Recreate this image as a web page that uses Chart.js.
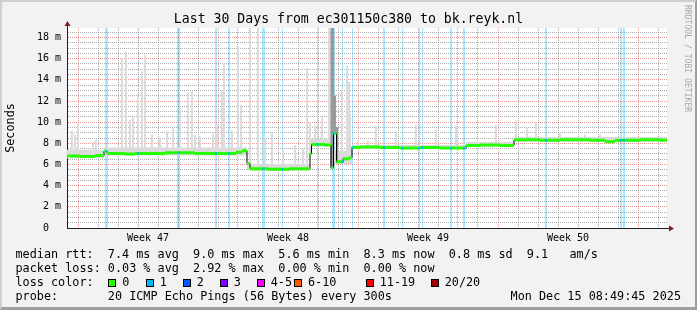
<!DOCTYPE html>
<html>
<head>
<meta charset="utf-8">
<script src="https://cdn.jsdelivr.net/npm/chart.js@4.4.1/dist/chart.umd.min.js"></script>
<style>
  html, body { margin: 0; padding: 0; background: #f2f2f2; }
  #frame {
    position: absolute; left: 0; top: 0; width: 697px; height: 310px; box-sizing: border-box;
    background: #f2f2f2;
    border-top: 2px solid #cfcfcf; border-left: 2px solid #cfcfcf;
    border-right: 2px solid #9e9e9e; border-bottom: 3px solid #9e9e9e;
  }
  #chart { position: absolute; left: 0; top: 0; }
  .txt { position: absolute; font-family: "DejaVu Sans Mono", monospace; color: #000; white-space: pre; }
  #title { left: 0; top: 10.7px; width: 697px; text-align: center; font-size: 13.2px; line-height: 16px; }
  #legend { left: 15.5px; top: 247.4px; font-size: 11.8px; line-height: 14px; }
  #stamp { right: 16px; top: 289.4px; font-size: 11.8px; line-height: 14px; }
  #mark { left: 683px; top: 5px; font-size: 8.1px; line-height: 9px; color: #a8a8a8; writing-mode: vertical-rl; }
  .key { position: absolute; top: 278.5px; width: 8px; height: 8px; box-sizing: border-box; border: 1px solid #000; }
  .keylbl { position: absolute; top: 275.4px; font-family: "DejaVu Sans Mono", monospace; font-size: 11.8px; line-height: 14px; white-space: pre; }
</style>
</head>
<body>
<div id="frame"></div>
<canvas id="chart" width="697" height="310"></canvas>
<div class="txt" id="title">Last 30 Days from ec301150c380 to bk.reyk.nl</div>
<div class="txt" id="legend">median rtt:  7.4 ms avg  9.0 ms max  5.6 ms min  8.3 ms now  0.8 ms sd  9.1   am/s
packet loss: 0.03 % avg  2.92 % max  0.00 % min  0.00 % now
loss color:
probe:       20 ICMP Echo Pings (56 Bytes) every 300s</div>
<div class="txt" id="stamp">Mon Dec 15 08:49:45 2025</div>
<div class="txt" id="mark">RRDTOOL / TOBI OETIKER</div>
<script>
// time axis in hours since the left edge of the graph (30 days = 720 h)
const spanHours = 720;
const yMaxMs = 18.9;

// median rtt, step changes (hour, ms)
const medianHours = [0, 15.6, 33.6, 44.4, 48, 69.6, 81.6, 117.6, 153.6, 189.6,
  202.8, 210, 216, 219.6, 241.2, 267.6, 291.6, 293.4, 309.6, 316.8,
  319.8, 323.4, 331.2, 338.4, 342, 351.6, 375.6, 399.6, 423.6, 447.6,
  478.8, 495.6, 519.6, 536.4, 567.6, 591.6, 627.6, 645.6, 657.6, 687.6, 711.6];
const medianMs = [6.8, 6.75, 6.85, 7.25, 7.05, 7.0, 7.05, 7.1, 7.05, 7.05,
  7.15, 7.3, 6.1, 5.6, 5.55, 5.6, 7.0, 7.9, 7.85, 5.7,
  8.95, 6.25, 6.55, 6.65, 7.6, 7.65, 7.6, 7.55, 7.6, 7.55,
  7.8, 7.85, 7.8, 8.35, 8.3, 8.35, 8.3, 8.15, 8.3, 8.35, 8.3];

// smoke band around the median
const smokeHours = [0, 44.4, 216, 291.6, 319.8, 342, 478.8, 536.4];
const smokeLowMs = [6.6, 6.85, 5.4, 7.7, 6.05, 7.45, 7.65, 8.15];
const smokeHighMs = [7.4, 7.6, 6.05, 8.4, 7.3, 7.85, 8.15, 8.6];

// single ping outliers (smoke spikes)
const spikeHours = [6, 9.6, 13.2, 31.2, 34.8, 66, 70.8, 75.6, 79.2, 85.2,
  90, 93.6, 102, 111.6, 120, 127.2, 135.6, 145.2, 150, 153.6,
  159.6, 175.2, 180, 186, 188.4, 198, 205.2, 208.8, 219.6, 229.2,
  237.6, 246, 259.2, 273.6, 283.2, 288, 291.6, 297.6, 306, 314.4,
  330, 336, 338.4, 339.6, 349.2, 361.2, 370.8, 394.8, 418.8, 442.8,
  466.8, 514.8, 538.8, 552, 562.8, 591.6, 621.6, 639.6];
const spikeTopMs = [9.2, 8.8, 9.7, 8.1, 8.3, 16.0, 16.6, 10.2, 10.5, 12.3,
  14.8, 16.3, 8.8, 8.5, 9.1, 9.4, 11.3, 12.8, 12.9, 8.8,
  8.6, 8.9, 9.7, 13.0, 15.5, 9.2, 17.1, 11.6, 18.9, 18.9,
  8.5, 9.0, 7.4, 7.8, 7.5, 15.1, 10.0, 9.7, 10.4, 18.9,
  13.0, 15.3, 13.8, 10.7, 8.3, 8.2, 9.6, 9.1, 9.7, 9.3,
  9.65, 9.7, 10.1, 9.5, 10.0, 9.0, 8.8, 8.8];
const darkSpikeHours = [317.4, 319.2, 321.6, 324];
const darkSpikeTopMs = [18.9, 18.9, 12.5, 9.5];

// packet loss periods (1/20)
const lossStartHours = [45.6, 84.6, 132, 177.6, 193.2, 234, 258, 300, 318, 330,
  342, 379.2, 402, 421.8, 426, 459.6, 475.2, 573.6, 663.6, 667.2];
const lossEndHours = [49.2, 85.8, 135.6, 180, 195.6, 237.6, 259.2, 301.2, 321.6, 331.2,
  343.2, 381.6, 403.8, 423.6, 427.8, 462, 477.6, 576, 666, 669.6];

// weeks (monday 00:00 in hours)
const weekLabels = ['Week 47', 'Week 48', 'Week 49', 'Week 50'];
const weekStartHours = [13.2, 181.2, 349.2, 517.2, 685.2];

const lossLabels = ['0', '1', '2', '3', '4-5', '6-10', '11-19', '20/20'];
const lossColors = ['#26ff00', '#00b8ff', '#0059ff', '#7e00ff', '#ff00ff', '#ff5500', '#ff0000', '#a10000'];
const lossKeyX = [108.3, 145.7, 182.7, 219.7, 256.7, 294, 365.7, 430.7];

const FONT = '"DejaVu Sans Mono", monospace';
const GRID = 'rgba(143,143,143,0.75)';
const MGRID = 'rgba(222,79,79,0.6)';

// legend keys
lossLabels.forEach(function(lbl, i) {
    const box = document.createElement('div');
    box.className = 'key';
    box.style.left = lossKeyX[i] + 'px';
    box.style.background = lossColors[i];
    document.body.appendChild(box);
    const t = document.createElement('div');
    t.className = 'keylbl';
    t.style.left = (lossKeyX[i] + 14) + 'px';
    t.textContent = lbl;
    document.body.appendChild(t);
});

function medianAt(h) {
    let v = medianMs[0];
    for (let i = 0; i < medianHours.length; i++) {
        if (medianHours[i] <= h) v = medianMs[i];
    }
    return v;
}

function steppedPoints(hours, vals) {
    const pts = hours.map((h, i) => ({x: h, y: vals[i]}));
    pts.push({x: spanHours, y: vals[vals.length - 1]});
    return pts;
}

const medianGreen = [];
medianHours.forEach(function(h, i) {
    const end = i + 1 < medianHours.length ? medianHours[i + 1] : spanHours;
    medianGreen.push({x: h, y: medianMs[i]}, {x: end, y: medianMs[i]}, {x: end, y: null});
});

const lossBands = [];
lossStartHours.forEach(function(s, i) {
    lossBands.push({x: s, y: yMaxMs}, {x: lossEndHours[i], y: yMaxMs}, {x: lossEndHours[i], y: null});
});
const lossDots = lossStartHours.map((s, i) => {
    const mid = (s + lossEndHours[i]) / 2;
    return {x: mid, y: medianAt(mid)};
});

const spikes = spikeHours.map((h, i) => ({x: h, y: [medianAt(h), spikeTopMs[i]]}));
const darkSpikes = darkSpikeHours.map((h, i) => ({x: h, y: [medianAt(h), darkSpikeTopMs[i]]}));

const xTicks = [];
for (let h = weekStartHours[0]; h <= spanHours; h += 24) xTicks.push(h);
weekStartHours.forEach(function(w, i) { if (i < weekLabels.length) xTicks.push(w + 84); });
xTicks.sort((a, b) => a - b);

const yTicks = [];
for (let v = 0; v < yMaxMs; v += 0.5) yTicks.push(v);

function isWeekCenter(v) {
    return weekStartHours.some(w => Math.abs(w + 84 - v) < 1e-6);
}
function isWeekStart(v) {
    return weekStartHours.some(w => Math.abs(w - v) < 1e-6);
}

const decor = {
    id: 'decor',
    beforeDraw(chart) {
        const {ctx, chartArea: a} = chart;
        ctx.save();
        ctx.fillStyle = '#ffffff';
        ctx.fillRect(a.left, a.top, a.right - a.left, a.bottom - a.top);
        ctx.restore();
    },
    afterDraw(chart) {
        const {ctx, chartArea: a} = chart;
        ctx.save();
        ctx.strokeStyle = 'rgb(31,31,31)';
        ctx.lineWidth = 1;
        ctx.beginPath();
        ctx.moveTo(a.left + 0.5, a.top);
        ctx.lineTo(a.left + 0.5, a.top - 2);
        ctx.moveTo(a.right, a.bottom + 0.5);
        ctx.lineTo(a.right + 2, a.bottom + 0.5);
        ctx.stroke();
        ctx.fillStyle = 'rgb(128,31,31)';
        ctx.beginPath();
        ctx.moveTo(a.left + 0.5, a.top - 7);
        ctx.lineTo(a.left - 2.5, a.top - 2);
        ctx.lineTo(a.left + 3.5, a.top - 2);
        ctx.closePath();
        ctx.fill();
        ctx.beginPath();
        ctx.moveTo(a.right + 7, a.bottom + 0.5);
        ctx.lineTo(a.right + 2, a.bottom - 2.5);
        ctx.lineTo(a.right + 2, a.bottom + 3.5);
        ctx.closePath();
        ctx.fill();
        ctx.restore();
    }
};

const ctx = document.getElementById('chart').getContext('2d');
const chart = new Chart(ctx, {
    type: 'line',
    data: {
        datasets: [{
            label: 'loss',
            data: lossBands,
            borderWidth: 0,
            pointRadius: 0,
            fill: 'origin',
            backgroundColor: 'rgba(0,184,255,0.33)',
            spanGaps: false,
            order: 10
        }, {
            label: 'smoke low',
            data: steppedPoints(smokeHours, smokeLowMs),
            stepped: true,
            borderWidth: 0,
            pointRadius: 0,
            fill: false,
            order: 9
        }, {
            label: 'smoke high',
            data: steppedPoints(smokeHours, smokeHighMs),
            stepped: true,
            borderWidth: 0,
            pointRadius: 0,
            fill: 1,
            backgroundColor: '#dadada',
            order: 8
        }, {
            type: 'bar',
            label: 'spikes',
            data: spikes,
            backgroundColor: '#dcdcdc',
            barThickness: 1.5,
            grouped: false,
            order: 7
        }, {
            type: 'bar',
            label: 'dark spikes',
            data: darkSpikes,
            backgroundColor: '#9a9a9a',
            barThickness: 1.5,
            grouped: false,
            order: 6
        }, {
            label: 'median',
            data: steppedPoints(medianHours, medianMs),
            stepped: true,
            borderColor: '#000000',
            borderWidth: 1,
            pointRadius: 0,
            fill: false,
            order: 3
        }, {
            label: 'median 0 loss',
            data: medianGreen,
            borderColor: '#26ff00',
            borderWidth: 3,
            borderCapStyle: 'butt',
            pointRadius: 0,
            spanGaps: false,
            fill: false,
            order: 2
        }, {
            label: 'loss dots',
            data: lossDots,
            showLine: false,
            pointStyle: 'rect',
            pointRadius: 1.6,
            pointBorderWidth: 0,
            pointBackgroundColor: '#00b8ff',
            order: 1
        }]
    },
    options: {
        responsive: false,
        animation: false,
        devicePixelRatio: 1,
        layout: { padding: { left: 0, right: 30, top: 28, bottom: 62 } },
        plugins: {
            legend: { display: false },
            tooltip: { enabled: false },
            title: { display: false }
        },
        scales: {
            x: {
                type: 'linear',
                min: 0,
                max: spanHours,
                offset: false,
                afterBuildTicks: s => { s.ticks = xTicks.map(v => ({value: v})); },
                afterFit: s => { s.height = 20; },
                border: { color: 'rgb(31,31,31)', width: 1, dash: [1, 1] },
                grid: {
                    offset: false,
                    drawTicks: false,
                    lineWidth: 1,
                    color: c => {
                        const v = c.tick ? c.tick.value : 0;
                        if (isWeekCenter(v)) return 'rgba(0,0,0,0)';
                        return isWeekStart(v) ? MGRID : GRID;
                    }
                },
                ticks: {
                    autoSkip: false,
                    maxRotation: 0,
                    padding: 4,
                    color: '#000',
                    font: { family: FONT, size: 10 },
                    callback: function(v) {
                        const i = weekStartHours.findIndex(w => Math.abs(w + 84 - v) < 1e-6);
                        return i >= 0 ? weekLabels[i] : '';
                    }
                }
            },
            y: {
                type: 'linear',
                min: 0,
                max: yMaxMs,
                afterBuildTicks: s => { s.ticks = yTicks.map(v => ({value: v})); },
                afterFit: s => { s.width = 67; },
                border: { color: 'rgb(31,31,31)', width: 1, dash: [1, 1] },
                grid: {
                    drawTicks: false,
                    lineWidth: 1,
                    color: c => {
                        const v = c.tick ? c.tick.value : 0;
                        return Math.abs(v % 2) < 1e-6 ? MGRID : GRID;
                    }
                },
                title: {
                    display: true,
                    text: 'Seconds',
                    color: '#000',
                    font: { family: FONT, size: 11.8 },
                    padding: { top: 4, bottom: 0 }
                },
                ticks: {
                    autoSkip: false,
                    padding: 6,
                    color: '#000',
                    font: { family: FONT, size: 10 },
                    callback: function(v) {
                        if (Math.abs(v % 2) > 1e-6) return '';
                        return v === 0 ? '0  ' : v + ' m';
                    }
                }
            }
        }
    },
    plugins: [decor]
});
</script>
</body>
</html>
